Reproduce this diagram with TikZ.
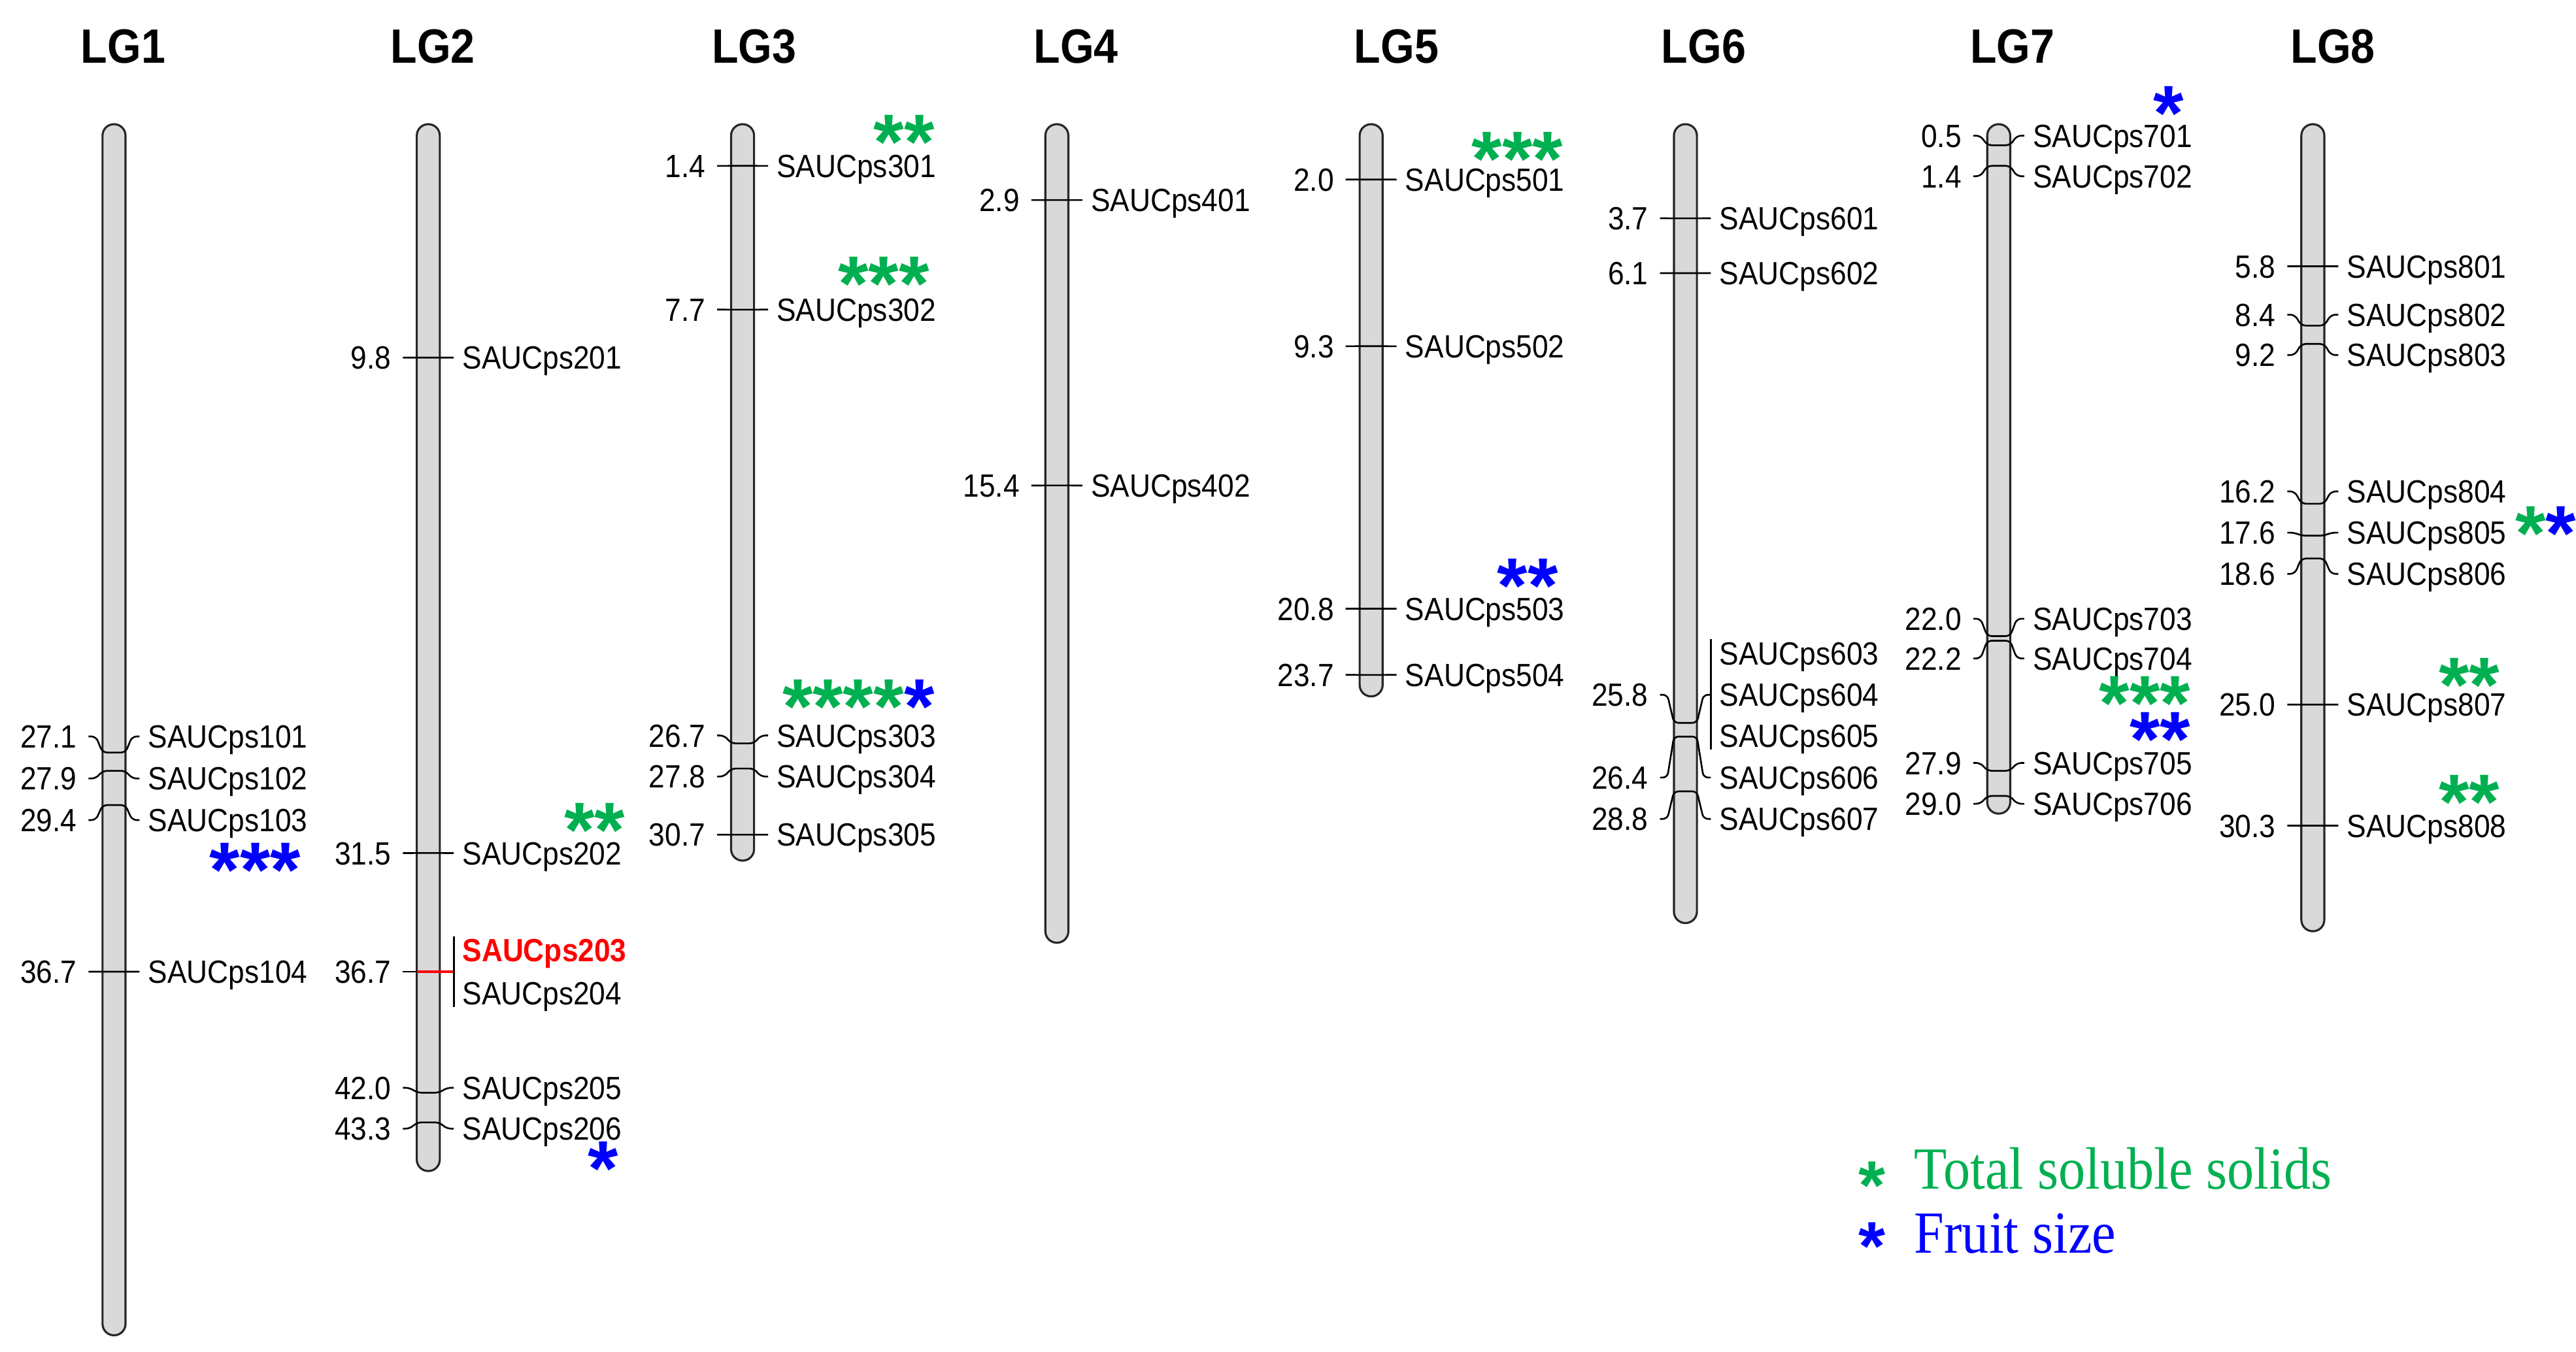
\documentclass[tikz,border=0pt]{standalone}
\usepackage{fontspec}
\setmainfont{Liberation Sans}[FakeStretch=0.9]
\newfontfamily\legendfont{Liberation Serif}[FakeStretch=0.9]
\newfontfamily\starfont{Liberation Sans}
\usetikzlibrary{calc,positioning}
\definecolor{tssgreen}{RGB}{0,176,80}
\definecolor{fsblue}{RGB}{0,0,255}
\tikzstyle{chrom} = [draw=black!85, line width=0.9pt, fill=gray!30, rounded corners=1.75mm]
\tikzstyle{tick} = [draw, line width=0.75pt, rounded corners=0.7mm]
\tikzstyle{bar} = [draw, line width=0.75pt]
\tikzstyle{title} = [font=\fontsize{21}{24}\selectfont\bfseries, text height=15pt, text depth=0pt, inner sep=0pt]
\tikzstyle{cm_label} = [anchor=east, font=\fontsize{14}{16}\selectfont, text height=10pt, text depth=0pt, inner ysep=0pt, inner xsep=1.73mm]
\tikzstyle{mk_label} = [anchor=west, font=\fontsize{14}{16}\selectfont, text height=10pt, text depth=0pt, inner ysep=0pt, inner xsep=1.26mm]
\tikzstyle{stars} = [anchor=east, inner sep=0pt, font=\starfont\fontsize{34}{34}\selectfont\bfseries]
\tikzstyle{leg_star} = [anchor=east, inner sep=0pt, font=\starfont\fontsize{30}{30}\selectfont\bfseries]
\tikzstyle{legend} = [anchor=west, inner sep=0pt, font=\legendfont\fontsize{26}{28}\selectfont, text height=17.2pt, text depth=0pt]
% asterisks in a box as tall as their ink
\newcommand{\st}[1]{\raisebox{-0.335em}[0.29em][0pt]{#1}}
% marker: x of chromosome, position (cM), y of label, number
\newcommand{\marker}[4]{%
  \node[cm_label] (n#4) at ({#1-15.5},#3) {#2};
  \node[mk_label] (m#4) at ({#1+15.5},#3) {SAUCps#4};
  \draw[tick] (n#4.east) -- ++(4.5,0) -- ({#1-7},{81.5+13.9*#2}) -- ({#1+7},{81.5+13.9*#2})
      -- ($(m#4.west)+(-4.5,0)$) -- (m#4.west);
}
\begin{document}
\begin{tikzpicture}[x=0.25134mm, y=-0.25134mm]
    \useasboundingbox (0,0) rectangle (1568,823);

    % chromosomes
    \draw[chrom] (62.4,75.6) rectangle (76.4,813);
    \draw[chrom] (253.7,75.6) rectangle (267.7,713);
    \draw[chrom] (445.0,75.6) rectangle (459.0,524);
    \draw[chrom] (636.3,75.6) rectangle (650.3,574);
    \draw[chrom] (827.6,75.6) rectangle (841.6,424);
    \draw[chrom] (1018.9,75.6) rectangle (1032.9,562);
    \draw[chrom] (1209.6,75.6) rectangle (1223.6,495.4);
    \draw[chrom] (1400.8,75.6) rectangle (1414.8,567);

    \node[title] (lg1) at (75,28) {LG1};
    \node[title] (lg2) at (263.5,28) {LG2};
    \node[title] (lg3) at (459,28) {LG3};
    \node[title] (lg4) at (655,28) {LG4};
    \node[title] (lg5) at (850,28) {LG5};
    \node[title] (lg6) at (1037,28) {LG6};
    \node[title] (lg7) at (1225,28) {LG7};
    \node[title] (lg8) at (1420,28) {LG8};

    % LG1
    \marker{69.4}{27.1}{448.4}{101}
    \marker{69.4}{27.9}{474.0}{102}
    \marker{69.4}{29.4}{499.3}{103}
    \marker{69.4}{36.7}{591.6}{104}
    \node[stars, text=fsblue] (s103) at ($(m103.east)+(-9,24)$) {\st{***}};

    % LG2
    \marker{260.7}{9.8}{217.7}{201}
    \marker{260.7}{31.5}{519.4}{202}
    \node[stars, text=tssgreen] (s202) at ($(m202.east)+(-3,-20.5)$) {\st{**}};
    \node[cm_label] (n203) at (245.2,591.6) {36.7};
    \coordinate (b203) at (276.2,591.6);
    \draw[tick] (n203.east) -- (253.7,591.6);
    \draw[tick, red, line width=1pt] (253.7,591.6) -- (b203);
    \draw[bar] ($(b203)+(0,-21.6)$) -- ($(b203)+(0,21.4)$);
    \node[mk_label, text=red, font=\fontsize{14}{16}\selectfont\bfseries] (m203) at (276.2,578.6) {SAUCps203};
    \node[mk_label] (m204) at (276.2,604.6) {SAUCps204};
    \marker{260.7}{42.0}{662.3}{205}
    \marker{260.7}{43.3}{687.2}{206}
    \node[stars, text=fsblue] (s206) at ($(m206.east)+(-7,18)$) {\st{*}};

    % LG3
    \marker{452.0}{1.4}{101.0}{301}
    \marker{452.0}{7.7}{188.5}{302}
    \marker{452.0}{26.7}{447.8}{303}
    \marker{452.0}{27.8}{472.8}{304}
    \marker{452.0}{30.7}{508.2}{305}
    \node[stars, text=tssgreen] (s301) at ($(m301.east)+(-6,-21)$) {\st{**}};
    \node[stars, text=tssgreen] (s302) at ($(m302.east)+(-9,-22)$) {\st{***}};
    \node[stars] (s303) at ($(m303.east)+(-6,-24)$) {\st{\textcolor{tssgreen}{****}\textcolor{fsblue}{*}}};

    % LG4
    \marker{643.3}{2.9}{121.8}{401}
    \marker{643.3}{15.4}{295.6}{402}

    % LG5
    \marker{834.6}{2.0}{109.3}{501}
    \marker{834.6}{9.3}{210.8}{502}
    \marker{834.6}{20.8}{370.6}{503}
    \marker{834.6}{23.7}{410.9}{504}
    \node[stars, text=tssgreen] (s501) at ($(m501.east)+(-6,-19)$) {\st{***}};
    \node[stars, text=fsblue] (s503) at ($(m503.east)+(-9,-20.5)$) {\st{**}};

    % LG6
    \marker{1025.9}{3.7}{132.9}{601}
    \marker{1025.9}{6.1}{166.3}{602}
    \node[cm_label] (n603) at (1010.4,423) {25.8};
    \coordinate (b603) at (1041.4,423);
    \draw[tick] (n603.east) -- ++(4.5,0) -- (1018.9,{81.5+13.9*25.8}) -- (1032.9,{81.5+13.9*25.8})
        -- ($(b603)+(-4.5,0)$) -- (b603);
    \draw[bar] ($(b603)+(0,-34)$) -- ($(b603)+(0,33.5)$);
    \node[mk_label] (m603) at (1041.4,397.9) {SAUCps603};
    \node[mk_label] (m604) at (b603) {SAUCps604};
    \node[mk_label] (m605) at (1041.4,448.1) {SAUCps605};
    \marker{1025.9}{26.4}{473.4}{606}
    \marker{1025.9}{28.8}{498.6}{607}

    % LG7
    \marker{1216.6}{0.5}{82.6}{701}
    \marker{1216.6}{1.4}{107.3}{702}
    \marker{1216.6}{22.0}{376.7}{703}
    \marker{1216.6}{22.2}{400.9}{704}
    \marker{1216.6}{27.9}{464.5}{705}
    \marker{1216.6}{29.0}{489.4}{706}
    \node[stars, text=fsblue] (s701) at ($(m701.east)+(-10,-20)$) {\st{*}};
    \node[stars, text=tssgreen] (s704) at ($(m704.east)+(-6,21)$) {\st{***}};
    \node[stars, text=fsblue] (s704b) at ($(m704.east)+(-6,42.7)$) {\st{**}};

    % LG8
    \marker{1407.8}{5.8}{162.1}{801}
    \marker{1407.8}{8.4}{191.6}{802}
    \marker{1407.8}{9.2}{216.2}{803}
    \marker{1407.8}{16.2}{299.2}{804}
    \marker{1407.8}{17.6}{324.3}{805}
    \marker{1407.8}{18.6}{349.4}{806}
    \marker{1407.8}{25.0}{429.0}{807}
    \marker{1407.8}{30.3}{502.7}{808}
    \node[stars, anchor=west] (s805) at ($(m805.east)+(0,-6)$) {\st{\textcolor{tssgreen}{*}\textcolor{fsblue}{*}}};
    \node[stars, text=tssgreen] (s807) at ($(m807.east)+(-9,-18.5)$) {\st{**}};
    \node[stars, text=tssgreen] (s808) at ($(m808.east)+(-9,-20.7)$) {\st{**}};

    % legend
    \node[leg_star, text=tssgreen] (leg_tss_star) at (1148,716) {\st{*}};
    \node[legend, text=tssgreen] (leg_tss) at (1165,712) {Total soluble solids};
    \node[leg_star, text=fsblue] (leg_fs_star) at (1148,753) {\st{*}};
    \node[legend, text=fsblue] (leg_fs) at (1165,751) {Fruit size};
\end{tikzpicture}
\end{document}
